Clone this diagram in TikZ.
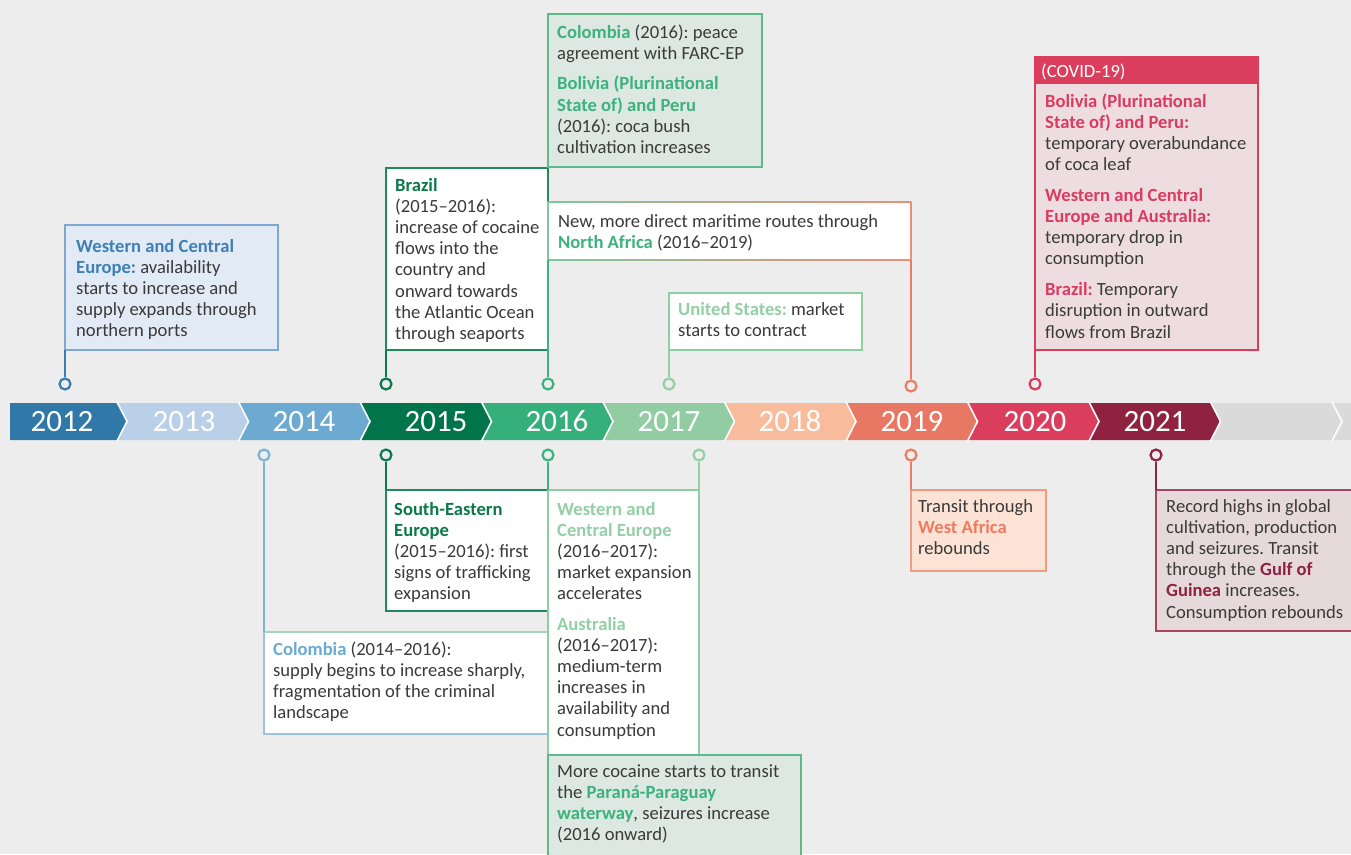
\documentclass[tikz,border=0pt]{standalone}
\usepackage{fontspec}
\setmainfont{Carlito}
\frenchspacing
\usetikzlibrary{calc}
\definecolor{bg}{HTML}{EDEDED}
\definecolor{txtgray}{HTML}{3A3A3A}
\definecolor{c2012}{HTML}{2F78A8}
\definecolor{c2013}{HTML}{B9D0E8}
\definecolor{c2014}{HTML}{6CAAD1}
\definecolor{c2015}{HTML}{00744A}
\definecolor{c2016}{HTML}{36B07B}
\definecolor{c2017}{HTML}{91CCA3}
\definecolor{c2018}{HTML}{F8BC9C}
\definecolor{c2019}{HTML}{E87864}
\definecolor{c2020}{HTML}{DB3E5D}
\definecolor{c2021}{HTML}{8E2240}
\definecolor{cgray}{HTML}{DADADA}
\definecolor{pin12}{HTML}{3A7DB0}
\definecolor{pin14}{HTML}{7DB3D8}
\definecolor{pin15}{HTML}{0B7A4C}
\definecolor{pin16}{HTML}{3DB17E}
\definecolor{pin17}{HTML}{94CFA6}
\definecolor{pin19}{HTML}{EC7C66}
\definecolor{pin20}{HTML}{DB3E5D}
\definecolor{pin21}{HTML}{8E2240}
\definecolor{k12}{HTML}{3D80B5}
\definecolor{k14}{HTML}{6AAAD3}
\definecolor{k15}{HTML}{0A7A4B}
\definecolor{k16}{HTML}{3DB17E}
\definecolor{k17}{HTML}{94CFA6}
\definecolor{k19}{HTML}{EE7A60}
\definecolor{k20}{HTML}{DC3B60}
\definecolor{k21}{HTML}{8E2240}
\definecolor{bd12}{HTML}{7FA7CF}
\definecolor{fl12}{HTML}{E2EAF6}
\definecolor{bd14}{HTML}{9DC3E2}
\definecolor{bd15}{HTML}{1F8A5C}
\definecolor{bd16}{HTML}{5DBB8B}
\definecolor{fl16}{HTML}{DCE8E1}
\definecolor{bd17}{HTML}{8FCDA3}
\definecolor{bd19}{HTML}{F19C80}
\definecolor{fl19}{HTML}{FCE3D5}
\definecolor{fl20}{HTML}{EDDDE0}
\definecolor{bd21}{HTML}{A84462}
\definecolor{fl21}{HTML}{E6D9DC}
\definecolor{mgreen}{HTML}{7CC79E}
\definecolor{msalmon}{HTML}{EE8E76}
\definecolor{coltop}{HTML}{A5D6BB}
\newcommand{\kw}[2]{\textcolor{#1}{\bfseries #2}}
\begin{document}
\begin{tikzpicture}[x=1pt,y=-1pt,
  evbox/.style={anchor=north west, inner sep=0pt, outer sep=0pt, line width=1.4pt},
  evtxt/.style={anchor=base west, inner sep=0pt, align=left, text=txtgray,
    font=\fontsize{18.6}{21.2}\selectfont\frenchspacing},
  yr/.style={inner sep=0pt, text=white, font=\fontsize{31}{31}\selectfont},
  pinnode/.style={circle, minimum size=11pt, inner sep=0pt, line width=2.2pt, fill=bg},
  conn/.style={line width=2pt}]
\path[use as bounding box, fill=bg] (0,0) rectangle (1351,854);
\clip (0,0) rectangle (1351,854);

% timeline band
\fill[c2012] (10,403) -- (117,403) -- (127,421.5) -- (117,440) -- (10,440) -- cycle;
\foreach \l/\r/\c in {117/238.5/c2013, 238.5/360/c2014, 360/481.5/c2015, 481.5/603/c2016,
  603/724.5/c2017, 724.5/846/c2018, 846/967.5/c2019, 967.5/1089/c2020, 1089/1210.5/c2021,
  1210.5/1332/cgray, 1332/1453.5/cgray}
  {\fill[\c] (\l,403) -- (\r,403) -- (\r+10,421.5) -- (\r,440) -- (\l,440) -- (\l+10,421.5) -- cycle;}
\foreach \l in {117,238.5,360,481.5,603,724.5,846,967.5,1089,1210.5,1332}
  {\draw[white, line width=1.6pt] (\l,402) -- (\l+10,421.5) -- (\l,441);}
\node[yr] (y2012) at (62,421.5) {2012};
\node[yr] (y2013) at (184,421.5) {2013};
\node[yr] (y2014) at (304,421.5) {2014};
\node[yr] (y2015) at (436,421.5) {2015};
\node[yr] (y2016) at (557,421.5) {2016};
\node[yr] (y2017) at (669,421.5) {2017};
\node[yr] (y2018) at (790,421.5) {2018};
\node[yr] (y2019) at (912,421.5) {2019};
\node[yr] (y2020) at (1035,421.5) {2020};
\node[yr] (y2021) at (1155,421.5) {2021};

% boxes above
\node[evbox, draw=bd12, fill=fl12, minimum width=213pt, minimum height=125pt] (b12) at (65,225) {};
\node[evbox, draw=bd15, fill=white, minimum width=162pt, minimum height=182pt] (bbra) at (386,168) {};
\node[evbox, draw=bd16, fill=fl16, minimum width=214pt, minimum height=153pt] (bcol16) at (548,14) {};
\node[evbox, draw=none, fill=white, minimum width=363pt, minimum height=58pt] (bmar) at (548,202) {};
\shade[left color=mgreen, right color=msalmon] (547.3,201.3) rectangle (911.7,202.7);
\shade[left color=mgreen, right color=msalmon] (547.3,259.3) rectangle (911.7,260.7);
\draw[mgreen, line width=1.4pt] (bmar.north west) -- (bmar.south west);
\draw[msalmon, line width=1.4pt] (bmar.north east) -- (bmar.south east);
\node[evbox, draw=bd17, fill=white, minimum width=193pt, minimum height=57pt] (bus) at (669,293) {};
\node[evbox, draw=c2020, fill=fl20, minimum width=223pt, minimum height=293pt] (bcov) at (1035,57) {};
\node[evbox, draw=c2020, fill=c2020, minimum width=223pt, minimum height=26pt] (bcovh) at (1035,57) {};

% boxes below
\node[evbox, draw=bd14, fill=white, minimum width=284pt, minimum height=102pt] (bcol14) at (264,632) {};
\draw[coltop, line width=1.4pt] (bcol14.north west) -- (bcol14.north east);
\node[evbox, draw=bd15, fill=white, minimum width=162pt, minimum height=121pt] (bsee) at (386,490) {};
\node[evbox, draw=bd17, fill=white, minimum width=151pt, minimum height=265pt] (bwce) at (548,490) {};
\node[evbox, draw=bd16, fill=fl16, minimum width=253pt, minimum height=120pt] (bpar) at (548,755) {};
\node[evbox, draw=bd19, fill=fl19, minimum width=135pt, minimum height=81pt] (bwaf) at (911,490) {};
\node[evbox, draw=bd21, fill=fl21, minimum width=209pt, minimum height=141pt] (b21) at (1156,490) {};

% pins
\node[pinnode, draw=pin12] (p12t) at (65,384) {};
\node[pinnode, draw=pin15] (p15t) at (386,384) {};
\node[pinnode, draw=pin16] (p16t) at (548,384) {};
\node[pinnode, draw=pin17] (p17t) at (669,384) {};
\node[pinnode, draw=pin19] (p19t) at (911,386) {};
\node[pinnode, draw=pin20] (p20t) at (1035,384) {};
\node[pinnode, draw=pin14] (p14b) at (264,455) {};
\node[pinnode, draw=pin15] (p15b) at (386,455) {};
\node[pinnode, draw=pin16] (p16b) at (548,455) {};
\node[pinnode, draw=pin17] (p17b) at (699,455) {};
\node[pinnode, draw=pin19] (p19b) at (911,455) {};
\node[pinnode, draw=pin21] (p21b) at (1156,455) {};

% connectors
\draw[conn, pin12] (p12t) -- (b12.south west);
\draw[conn, pin15] (p15t) -- (bbra.south west);
\draw[conn, pin16] (p16t) -- (bmar.south west);
\draw[conn, pin17] (p17t) -- (bus.south west);
\draw[conn, pin19] (p19t) -- (bmar.south east);
\draw[conn, pin20] (p20t) -- (bcov.south west);
\draw[conn, pin14] (p14b) -- (bcol14.north west);
\draw[conn, pin15] (p15b) -- (bsee.north west);
\draw[conn, pin16] (p16b) -- (bwce.north west);
\draw[conn, pin17] (p17b) -- (bwce.north east);
\draw[conn, pin19] (p19b) -- (bwaf.north west);
\draw[conn, pin21] (p21b) -- (b21.north west);

% texts above (anchored at the baseline of their last line)
\node[evtxt] (t12) at (76,336.8) {\kw{k12}{Western and Central}\\\kw{k12}{Europe:} availability\\starts to increase and\\supply expands through\\northern ports};
\node[evtxt] (tbra) at (395,339.4) {\kw{k15}{Brazil}\\(2015–2016):\\increase of cocaine\\flows into the\\country and\\onward towards\\the Atlantic Ocean\\through seaports};
\node[evtxt] (tcol16) at (557,153.5) {\kw{k16}{Colombia} (2016): peace\\agreement with FARC-EP\\[9.5pt]\kw{k16}{Bolivia (Plurinational}\\\kw{k16}{State of) and Peru}\\(2016): coca bush\\cultivation increases};
\node[evtxt] (tmar) at (558,248.2) {New, more direct maritime routes through\\\kw{k16}{North Africa} (2016–2019)};
\node[evtxt] (tus) at (678,336.2) {\kw{k17}{United States:} market\\starts to contract};
\node[evtxt, text=white] (tcovh) at (1041,77) {(COVID-19)};
\node[evtxt] (tcov) at (1045,338) {\kw{k20}{Bolivia (Plurinational}\\\kw{k20}{State of) and Peru:}\\temporary overabundance\\of coca leaf\\[9.5pt]\kw{k20}{Western and Central}\\\kw{k20}{Europe and Australia:}\\temporary drop in\\consumption\\[9.5pt]\kw{k20}{Brazil:} Temporary\\disruption in outward\\flows from Brazil};

% texts below
\node[evtxt] (tcol14) at (273,718.6) {\kw{k14}{Colombia} (2014–2016):\\supply begins to increase sharply,\\fragmentation of the criminal\\landscape};
\node[evtxt] (tsee) at (394,599.8) {\kw{k15}{South-Eastern}\\\kw{k15}{Europe}\\(2015–2016): first\\signs of trafficking\\expansion};
\node[evtxt] (twce) at (557,736) {\kw{k17}{Western and}\\\kw{k17}{Central Europe}\\(2016–2017):\\market expansion\\accelerates\\[9pt]\kw{k17}{Australia}\\(2016–2017):\\medium-term\\increases in\\availability and\\consumption};
\node[evtxt] (tpar) at (557,840.6) {More cocaine starts to transit\\the \kw{k16}{Paraná-Paraguay}\\\kw{k16}{waterway}, seizures increase\\(2016 onward)};
\node[evtxt] (twaf) at (918,554.4) {Transit through\\\kw{k19}{West Africa}\\rebounds};
\node[evtxt] (t21) at (1166,618) {Record highs in global\\cultivation, production\\and seizures. Transit\\through the \kw{k21}{Gulf of}\\\kw{k21}{Guinea} increases.\\Consumption rebounds};
\end{tikzpicture}
\end{document}
